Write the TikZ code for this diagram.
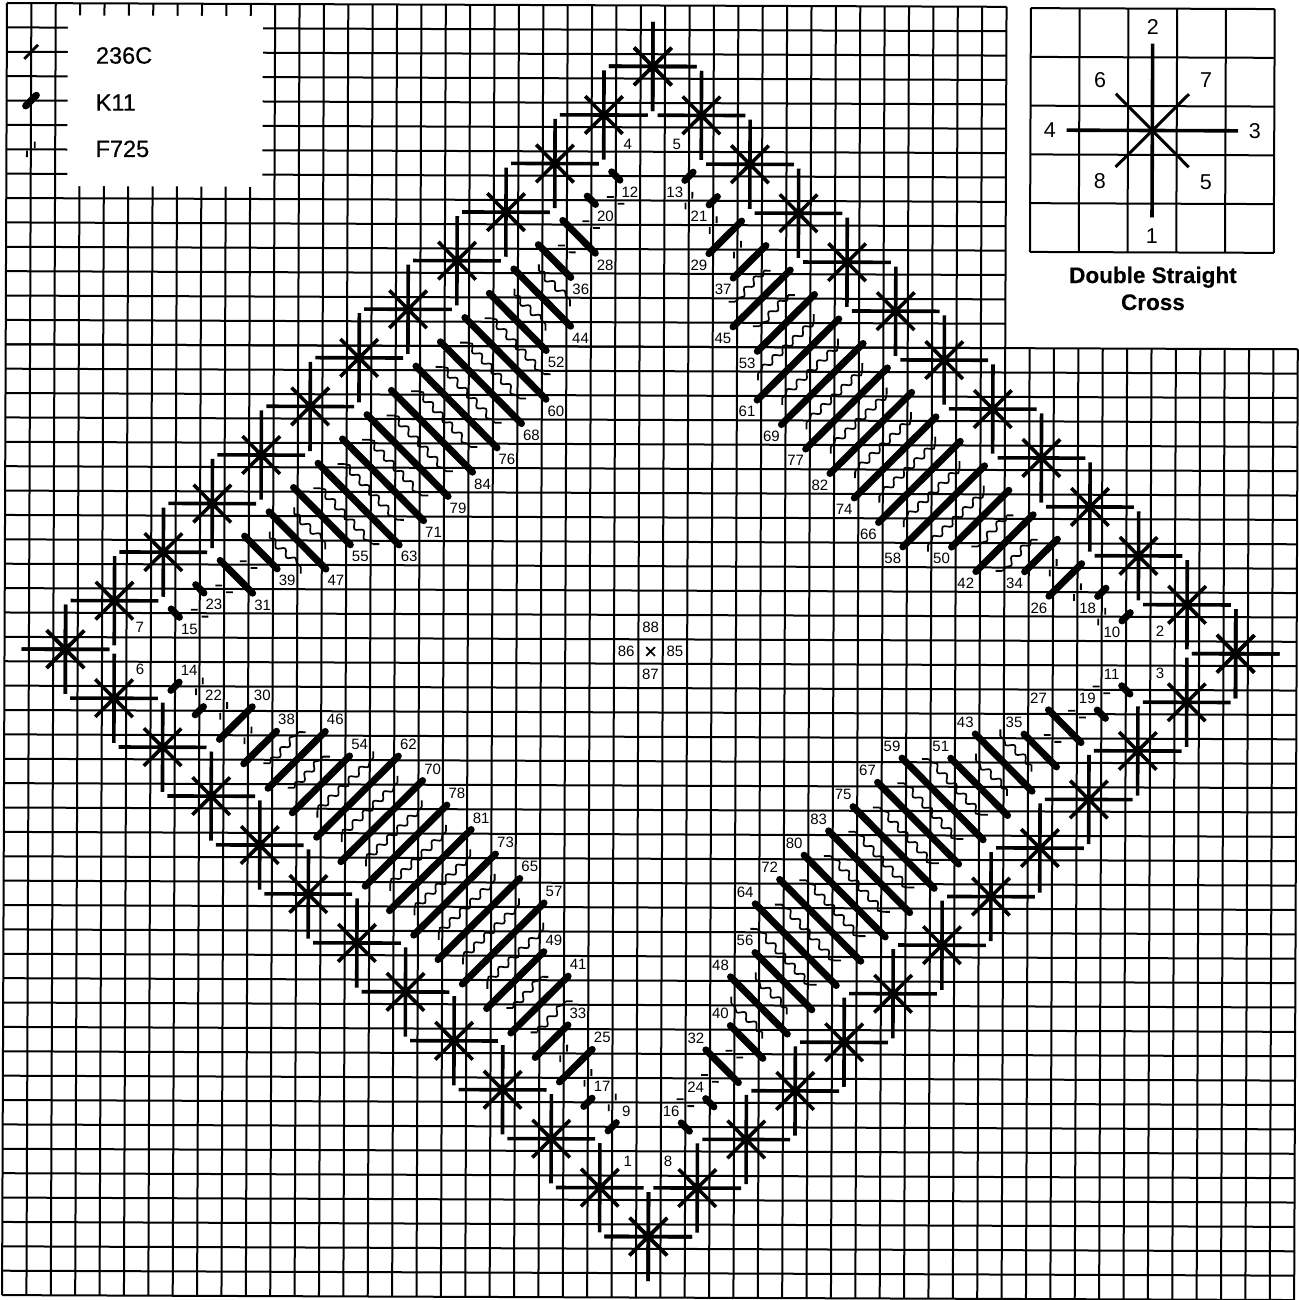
\documentclass[tikz,border=0pt]{standalone}
\usepackage{fontspec}
\setmainfont{Liberation Sans}
\newfontfamily\keyfont[FakeBold=0.5]{Liberation Sans}
\newfontfamily\titlefont[FakeBold=0.3]{Liberation Sans Bold}
\usetikzlibrary{decorations.pathmorphing}
\tikzset{
  gridline/.style={line width=2pt},
  crossarm/.style={line width=3.6pt},
  kstitch/.style={line width=7pt, line cap=round},
  fwave/.style={line width=1.7pt, decorate, decoration={snake, segment length=14pt, amplitude=3pt}},
  ftick/.style={line width=1.8pt},
  numlbl/.style={font=\fontsize{15}{16}\selectfont, inner sep=0pt},
  keylbl/.style={font=\keyfont\fontsize{23.5}{25}\selectfont, inner sep=0pt, anchor=west},
  insetlbl/.style={font=\fontsize{21.5}{23}\selectfont, inner sep=0pt}
}
\begin{document}
\begin{tikzpicture}[x=24.38pt, y=-24.38pt]
  \useasboundingbox (-7pt,-1297pt) rectangle (1291pt,3pt);
  \begin{scope}[rotate=-0.22]
  % canvas grid
  \foreach \r in {0,...,14} \draw[gridline] (0,\r) -- (41,\r);
  \foreach \r in {14,...,53} \draw[gridline] (0,\r) -- (53,\r);
  \foreach \c in {0,...,41} \draw[gridline] (\c,0) -- (\c,53);
  \foreach \c in {42,...,53} \draw[gridline] (\c,14) -- (\c,53);

  % key
  \fill[white] (2.5,0.5) rectangle (10.5,7.5);
  \draw[line width=2.8pt] (0.72,2.29) -- (1.28,1.71);
  \draw[kstitch] (0.78,4.22) -- (1.22,3.78);
  \draw[ftick] (1.16,5.95) -- (1.16,5.68) (0.84,6.05) -- (0.84,6.32);
  \node[keylbl] (key236) at (3.65,2.14) {236C};
  \node[keylbl] (keyk11) at (3.65,4.07) {K11};
  \node[keylbl] (keyf725) at (3.65,5.97) {F725};

  % stitch diagram
  \foreach \c in {42,44,...,52} \draw[gridline] (\c,0.05) -- (\c,10.05);
  \foreach \r in {0,2,...,10} \draw[gridline] (42,\r+0.05) -- (52,\r+0.05);
  \draw[crossarm, shift={(47,5.05)}] (0,-3.56) -- (0,3.56) (-3.52,0) -- (3.52,0);
  \draw[line width=3pt, shift={(47,5.05)}] (-1.5,-1.5) -- (1.5,1.5) (-1.5,1.5) -- (1.5,-1.5);
  \node[insetlbl] (d1) at (47,9.4) {1};
  \node[insetlbl] (d2) at (47,0.8) {2};
  \node[insetlbl] (d3) at (51.2,5.05) {3};
  \node[insetlbl] (d4) at (42.8,5.05) {4};
  \node[insetlbl] (d5) at (49.2,7.15) {5};
  \node[insetlbl] (d6) at (44.85,2.98) {6};
  \node[insetlbl] (d7) at (49.2,2.98) {7};
  \node[insetlbl] (d8) at (44.85,7.15) {8};
  \node[font=\titlefont\fontsize{22.5}{27}\selectfont, inner sep=0pt, align=center] (dtitle) at (47.05,11.53) {Double Straight\\Cross};

  % four quarters of the pattern
  \foreach \sx/\sy/\ax/\ay/\tags in {
    1/1/1/0/{12,20,28,36,44,52,60,68,76,84,79,71,63,55,47,39,31,23,15},
    -1/1/0/1/{13,21,29,37,45,53,61,69,77,82,74,66,58,50,42,34,26,18,10},
    1/-1/0/1/{9,17,25,33,41,49,57,65,73,81,78,70,62,54,46,38,30,22,14},
    -1/-1/1/0/{16,24,32,40,48,56,64,72,80,83,75,67,59,51,43,35,27,19,11}} {
    \begin{scope}[shift={(26.5,26.5)}, xscale=\sx, yscale=\sy, shift={(-26.5,-26.5)}]
      % 236C crosses
      \foreach \k in {0,...,12}
        \draw[crossarm, shift={({26.5-2*\k},{2.5+2*\k})}] (0,-1.83) -- (0,1.83) (-1.8,0) -- (1.8,0)
          (-0.77,-0.77) -- (0.77,0.77) (-0.77,0.77) -- (0.77,-0.77);
      % F725
      \foreach \i in {0,...,17} {
        \pgfmathtruncatemacro{\wlen}{{0,0,0,1,1,2,2,2,2,2,2,2,2,1,1,0,0,0}[\i]}
        \ifnum\wlen=1
          \pgfmathsetmacro{\tx}{\ay}\pgfmathsetmacro{\ty}{\ax}
        \else
          \pgfmathsetmacro{\tx}{\ax}\pgfmathsetmacro{\ty}{\ay}
        \fi
        \coordinate (wa) at ({25-\i-0.08*\tx-0.14*\ty},{8+\i-0.14*\tx-0.08*\ty});
        \coordinate (wb) at ({25-\i+\wlen+0.08*\tx+0.14*\ty},{8+\i+\wlen+0.14*\tx+0.08*\ty});
        \draw[ftick] (wa) -- ++({-0.28*\tx},{-0.28*\ty});
        \draw[ftick] (wb) -- ++({0.28*\tx},{0.28*\ty});
        \ifnum\wlen>0 \draw[fwave] (wa) -- (wb); \fi
      }
      % K11 with numbers
      \foreach \t [count=\i from 0] in \tags {
        \pgfmathtruncatemacro{\klen}{{0,0,1,1,2,2,3,3,3,3,3,3,3,2,2,1,1,0,0}[\i]}
        \draw[kstitch] ({25-\i-0.17},{7+\i-0.17}) -- ({25-\i+\klen+0.17},{7+\i+\klen+0.17});
        \node[numlbl] (n\t) at ({25-\i+\klen+0.58},{7+\i+\klen+0.65}) {\t};
      }
    \end{scope}
  }

  % numbers of the crosses
  \node[numlbl] (n1) at (25.65,47.43) {1};
  \node[numlbl] (n2) at (47.39,25.6) {2};
  \node[numlbl] (n3) at (47.4,27.32) {3};
  \node[numlbl] (n4) at (25.49,5.68) {4};
  \node[numlbl] (n5) at (27.5,5.68) {5};
  \node[numlbl] (n6) at (5.56,27.3) {6};
  \node[numlbl] (n7) at (5.55,25.57) {7};
  \node[numlbl] (n8) at (27.3,47.4) {8};

  % centre
  \draw[line width=1.7pt] (26.32,26.32) -- (26.68,26.68) (26.32,26.68) -- (26.68,26.32);
  \node[numlbl] (n85) at (27.5,26.5) {85};
  \node[numlbl] (n86) at (25.5,26.5) {86};
  \node[numlbl] (n87) at (26.5,27.45) {87};
  \node[numlbl] (n88) at (26.5,25.5) {88};
  \end{scope}
\end{tikzpicture}
\end{document}
